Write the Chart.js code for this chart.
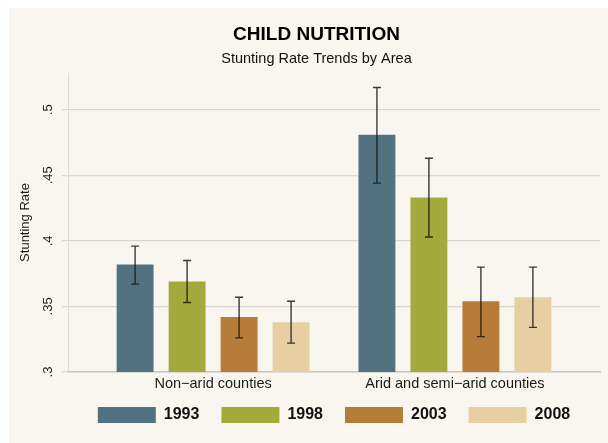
<!DOCTYPE html>
<html>
<head>
<meta charset="utf-8">
<script src="https://cdn.jsdelivr.net/npm/chart.js@4.4.1/dist/chart.umd.min.js"></script>
<style>
  html, body { margin: 0; padding: 0; background: #ffffff; }
  #wrap { position: absolute; left: 9px; top: 8px; width: 599px; height: 435px; background: #f9f6ef; }
</style>
</head>
<body>
<div id="wrap"><canvas id="myChart"></canvas></div>
<script>
const categories = ['Non\u2212arid counties', 'Arid and semi\u2212arid counties'];
const years = ['1993', '1998', '2003', '2008'];

// mean stunting rate per area
const rate1993 = [0.382, 0.481];
const rate1998 = [0.369, 0.433];
const rate2003 = [0.342, 0.354];
const rate2008 = [0.338, 0.357];

// confidence intervals
const low1993 = [0.367, 0.444];
const high1993 = [0.396, 0.517];
const low1998 = [0.353, 0.403];
const high1998 = [0.385, 0.463];
const low2003 = [0.326, 0.327];
const high2003 = [0.357, 0.380];
const low2008 = [0.322, 0.334];
const high2008 = [0.354, 0.380];

const yTicks = [0.3, 0.35, 0.4, 0.45, 0.5];
const yTickLabels = ['.3', '.35', '.4', '.45', '.5'];

const colors = ['#527282', '#a3aa3c', '#b87c39', '#e8cfa3'];
const rates = [rate1993, rate1998, rate2003, rate2008];
const lows = [low1993, low1998, low2003, low2008];
const highs = [high1993, high1998, high2003, high2008];

const errorBars = {
    id: 'errorBars',
    afterLayout(chart) {
        // x box is kept short so the legend sits close; let its labels draw below it
        chart.scales.x.bottom = chart.scales.x.top + 30;
    },
    afterDatasetsDraw(chart) {
        const ctx = chart.ctx;
        const y = chart.scales.y;
        ctx.save();
        ctx.strokeStyle = 'rgba(25,25,25,0.85)';
        ctx.lineWidth = 1.4;
        chart.data.datasets.forEach((ds, i) => {
            const meta = chart.getDatasetMeta(i);
            meta.data.forEach((bar, j) => {
                const top = y.getPixelForValue(highs[i][j]);
                const bottom = y.getPixelForValue(lows[i][j]);
                ctx.beginPath();
                ctx.moveTo(bar.x, top);
                ctx.lineTo(bar.x, bottom);
                ctx.moveTo(bar.x - 4, top);
                ctx.lineTo(bar.x + 4, top);
                ctx.moveTo(bar.x - 4, bottom);
                ctx.lineTo(bar.x + 4, bottom);
                ctx.stroke();
            });
        });
        ctx.restore();
    }
};

const ctx = document.getElementById('myChart').getContext('2d');
new Chart(ctx, {
    type: 'bar',
    data: {
        datasets: years.map((yr, i) => ({
            label: yr,
            data: rates[i].map((v, j) => ({x: j + 1, y: v})),
            backgroundColor: colors[i],
            borderWidth: 0
        }))
    },
    options: {
        responsive: true,
        maintainAspectRatio: false,
        animation: false,
        categoryPercentage: 0.86,
        barPercentage: 0.71,
        layout: {padding: {left: 24, right: 8, top: 0, bottom: 10}},
        scales: {
            x: {
                type: 'linear',
                offset: false,
                min: 0.4,
                max: 2.6,
                afterBuildTicks: (scale) => { scale.ticks = categories.map((c, i) => ({value: i + 1})); },
                afterFit: (scale) => { scale.height = 13; },
                ticks: {
                    callback: (v) => categories[v - 1],
                    color: '#1a1a1a',
                    padding: 3,
                    maxRotation: 0,
                    font: {family: 'Liberation Sans', size: 14.5}
                },
                grid: {display: true, offset: false, drawOnChartArea: false, drawTicks: false},
                border: {display: true, color: '#c9c6c0', width: 1.5}
            },
            y: {
                min: 0.3,
                max: 0.528,
                afterBuildTicks: (scale) => { scale.ticks = yTicks.map(v => ({value: v})); },
                afterFit: (scale) => { scale.width = 35; },
                ticks: {
                    callback: (v) => yTickLabels[yTicks.indexOf(v)],
                    minRotation: 90,
                    maxRotation: 90,
                    crossAlign: 'center',
                    padding: 5,
                    color: '#1a1a1a',
                    font: {family: 'Liberation Sans', size: 13}
                },
                title: {
                    display: true,
                    text: 'Stunting Rate',
                    color: '#1a1a1a',
                    padding: {top: -15.3, bottom: 0},
                    font: {family: 'Liberation Sans', size: 13}
                },
                grid: {color: '#d9d6d0', lineWidth: 1.3, tickLength: 6},
                border: {display: true, color: '#dedbd5', width: 1}
            }
        },
        plugins: {
            title: {
                display: true,
                text: 'CHILD NUTRITION',
                color: '#000000',
                font: {family: 'Liberation Sans', size: 19, weight: 'bold'},
                padding: {top: 15.1, bottom: 4.7}
            },
            subtitle: {
                display: true,
                text: 'Stunting Rate Trends by Area',
                color: '#111111',
                font: {family: 'Liberation Sans', size: 14.5},
                padding: {top: 0, bottom: 5}
            },
            legend: {
                position: 'bottom',
                fullSize: false,
                labels: {
                    boxWidth: 58,
                    boxHeight: 16,
                    padding: 22,
                    color: '#111111',
                    font: {family: 'Liberation Sans', size: 16, weight: 'bold'}
                }
            },
            tooltip: {enabled: false}
        }
    },
    plugins: [errorBars]
});
</script>
</body>
</html>
